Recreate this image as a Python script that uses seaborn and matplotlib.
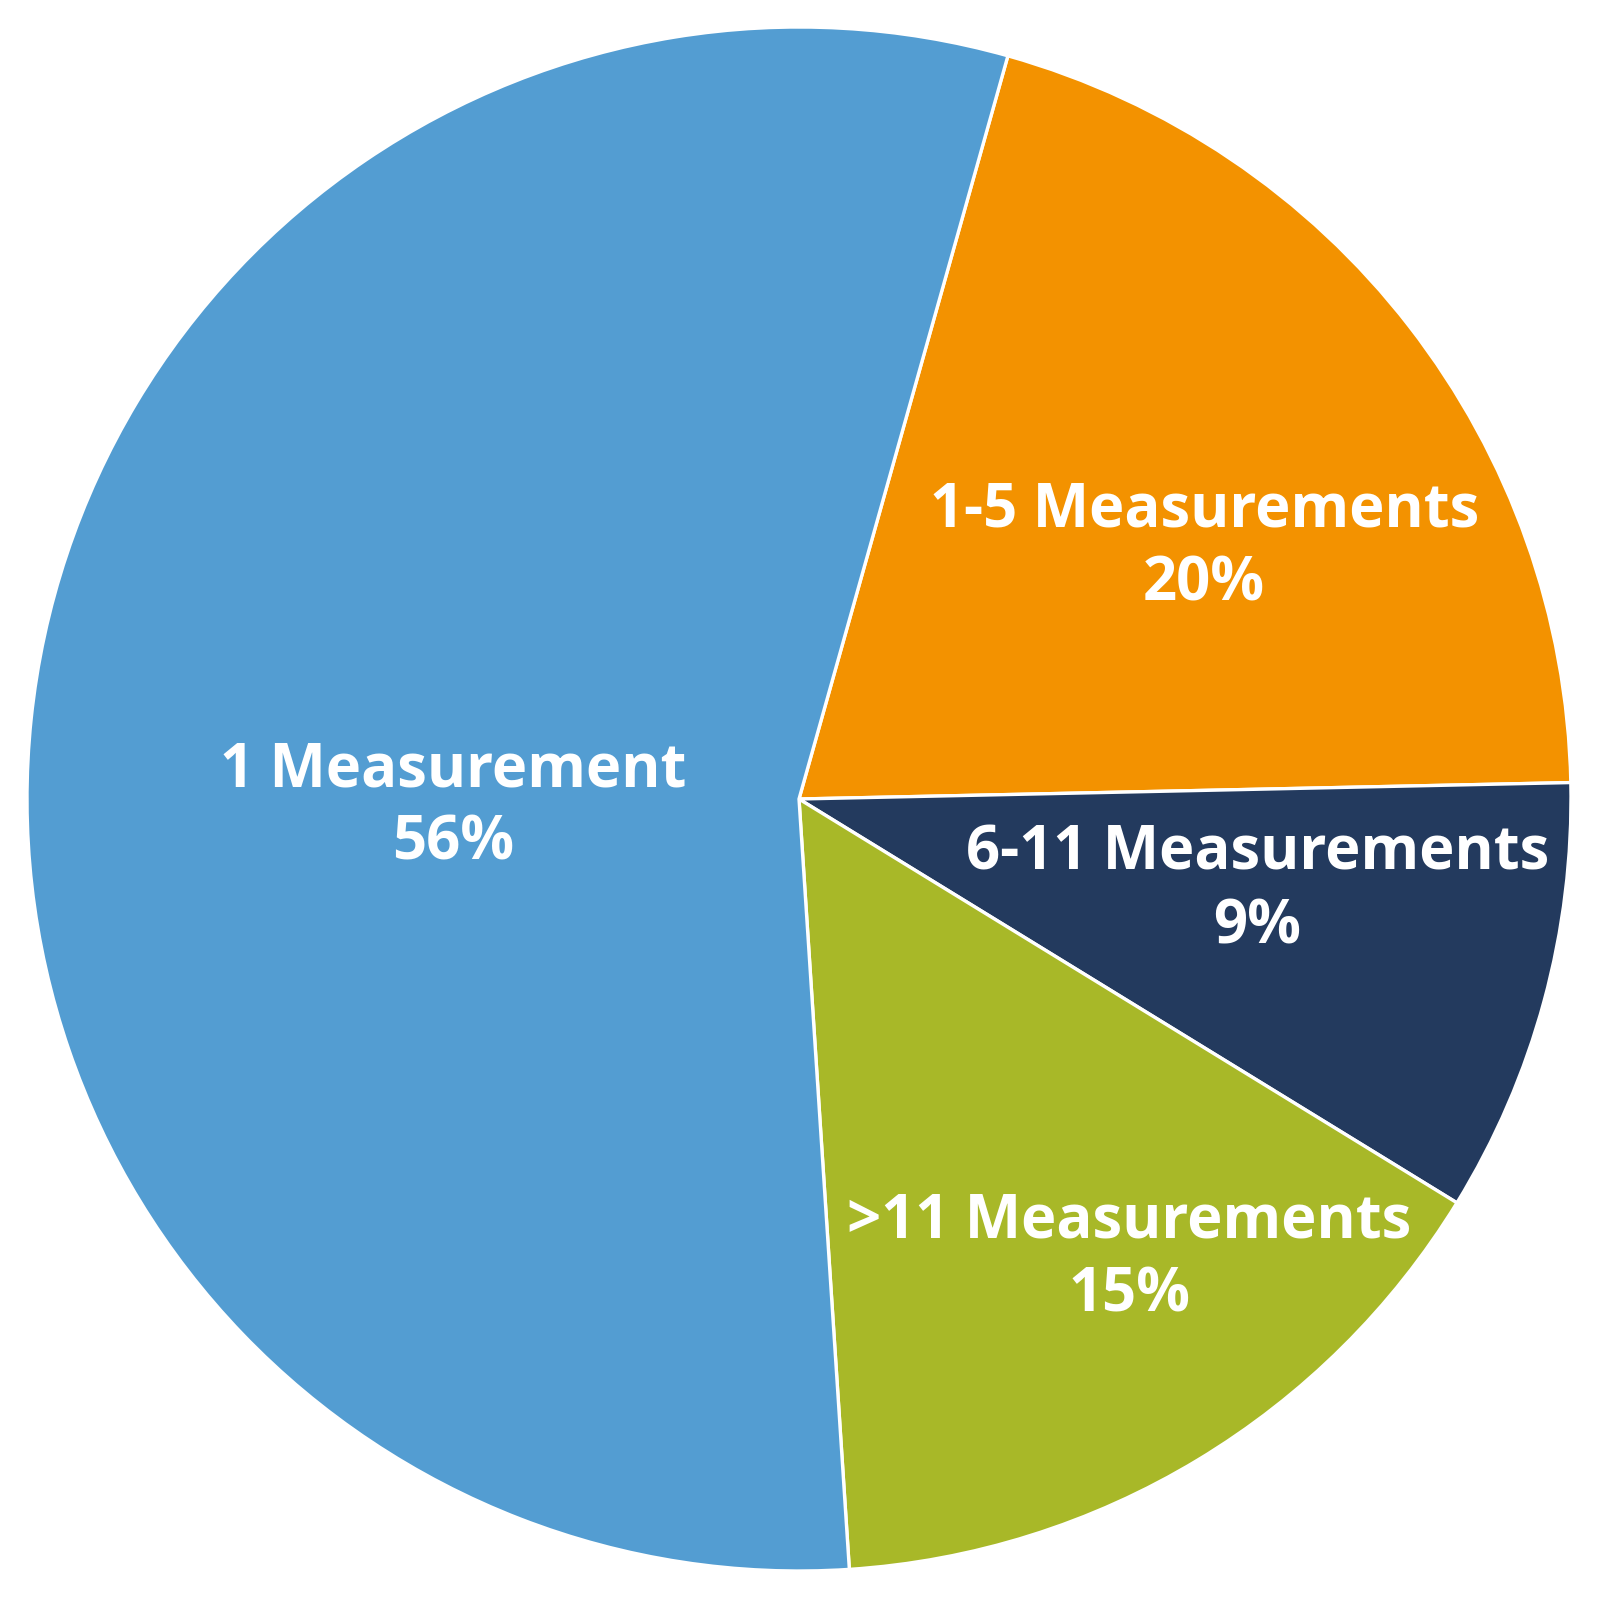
"""Pie chart: share of records by number of measurements."""
import matplotlib
matplotlib.use('Agg')
import matplotlib.pyplot as plt
import seaborn as sns

# data (clockwise from the top)
categories = ['1-5 Measurements', '6-11 Measurements', '>11 Measurements', '1 Measurement']
pct_labels = [20, 9, 15, 56]            # printed percentages
wedge_shares = [20.3, 9.1, 15.2, 55.4]  # wedge sizes as drawn
colors = ['#F39200', '#233A5E', '#A8B828', '#539DD2']

# label anchor (in pie-radius units), kept apart from the data
label_pos = [(0.525, 0.325), (0.594, -0.119), (0.428, -0.596), (-0.448, -0.011)]

sns.set_theme(style='white')
plt.rcParams['font.family'] = ['Open Sans', 'DejaVu Sans']

fig = plt.figure(figsize=(16, 15.97), dpi=100)
ax = fig.add_axes([0.016875, 0.01628, 0.965, 0.9668])

palette = sns.color_palette(colors)
wedges, _ = ax.pie(wedge_shares, colors=palette, startangle=74.3, counterclock=False,
                   radius=1.0,
                   wedgeprops=dict(edgecolor='white', linewidth=2.4))

for name, val, (x, y) in zip(categories, pct_labels, label_pos):
    ax.text(x, y, f'{name}\n{val}%', ha='center', va='center',
            color='white', fontsize=43, fontweight='bold', linespacing=1.28)

ax.set_xlim(-1, 1)
ax.set_ylim(-1, 1)
ax.set_axis_off()

fig.savefig('out.png', dpi=100, facecolor='white')
plt.close(fig)
